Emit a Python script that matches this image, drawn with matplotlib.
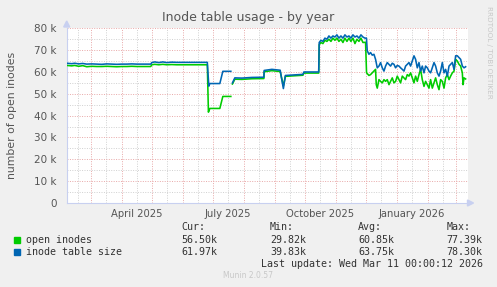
import numpy as np
import pandas as pd
import matplotlib
matplotlib.use("Agg")
import matplotlib.pyplot as plt
from matplotlib.patches import Rectangle, Polygon
from matplotlib.ticker import FuncFormatter, MultipleLocator

# --- data, days counted from START ---
START = pd.Timestamp("2025-02-05")
END = pd.Timestamp("2026-03-12 16:00")

size_days = [0, 5, 8, 12, 16, 20, 25, 30, 35, 40, 45, 50, 55, 60, 65, 70, 75, 80, 84,
             85, 88, 92, 96, 100, 105, 110, 115, 120, 125, 130, 135, 140.5,
             142, 143, 153, 156, 164, 164.5,
             165.6, 168, 175, 185, 197, 197.3, 205, 213.3, 216.5, 218.5, 236, 237, 251.8,
             252.3, 254, 256, 258, 260, 262, 264, 266, 268, 270, 272, 274, 276, 278, 280,
             282, 284, 286, 288, 290, 292, 294, 296, 298, 299.5,
             300.3, 302, 303.6, 305.3, 307, 308.6, 310.3, 312, 313.6, 315.3, 317, 318.6,
             320.3, 322, 323.6, 325.3, 327, 328.6, 330.3, 332, 333.6, 335.3, 337, 338.6,
             340.3, 342, 343.6, 345.3, 347, 348.6, 350.3, 352, 353.6, 355.3, 357, 358.6,
             360.3, 362, 363.6, 365.3, 367, 368.6, 370.3, 372, 373.6, 375.3, 377, 378.6,
             380.3, 382, 383.6, 385.3, 387, 388.6, 390.3, 392, 393.6, 395.3, 397, 398.6]
size_vals = [64.0, 63.8, 64.0, 63.7, 63.9, 63.6, 63.7, 63.6, 63.5, 63.7, 63.6, 63.5, 63.6,
             63.6, 63.7, 63.6, 63.6, 63.6, 63.6,
             64.3, 64.6, 64.3, 64.6, 64.3, 64.5, 64.4, 64.4, 64.4, 64.4, 64.4, 64.4, 64.4,
             53.5, 54.7, 54.7, 60.3, 60.3, np.nan,
             55.0, 57.3, 57.2, 57.5, 57.6, 60.7, 61.2, 60.8, 52.4, 58.4, 58.9, 60.0, 60.0,
             73.5, 74.5, 74.0, 75.5, 75.0, 76.5, 75.5, 76.5, 76.0, 77.0, 75.5, 76.5, 75.5,
             77.0, 76.0, 76.5, 75.5, 77.0, 76.0, 76.5, 75.5, 77.0, 76.0, 75.5, 75.5,
             69.7, 68.1, 68.9, 67.7, 68.1, 65.8, 61.9, 62.7, 64.3, 61.9, 60.4, 62.7,
             64.3, 63.5, 62.7, 64.0, 63.5, 61.9, 63.0, 62.7, 61.9, 61.2, 60.4, 62.7,
             63.5, 64.3, 62.7, 65.0, 67.4, 65.8, 61.9, 64.3, 60.4, 62.7, 59.6, 62.7,
             61.9, 60.4, 59.6, 61.9, 64.3, 62.7, 59.6, 58.1, 60.4, 64.3, 59.6, 61.2,
             58.1, 62.7, 63.5, 64.3, 61.2, 67.4, 67.4, 66.6, 65.8, 62.7, 61.9, 62.4]

open_days = [0, 5, 8, 12, 16, 20, 25, 30, 35, 40, 45, 50, 55, 60, 65, 70, 75, 80, 84,
             85, 88, 92, 96, 100, 105, 110, 115, 120, 125, 130, 135, 140.5,
             141.6, 143, 153, 156, 164, 164.5,
             165.6, 168, 175, 185, 197, 197.3, 205, 213.3, 216.5, 218.5, 236, 237, 251.8,
             252.3, 254, 256, 258, 260, 262, 264, 266, 268, 270, 272, 274, 276, 278, 280,
             282, 284, 286, 288, 290, 292, 294, 296, 298.6,
             299.6, 302, 303.6, 305.3, 307, 308.6, 309.3, 310.3, 312, 313.6, 315.3, 317,
             318.6, 320.3, 322, 323.6, 325.3, 327, 328.6, 330.3, 332, 333.6, 335.3, 337,
             338.6, 340.3, 342, 343.6, 345.3, 347, 348.6, 350.3, 352, 353.6, 355.3, 357,
             358.6, 360.3, 362, 363.6, 365.3, 367, 368.6, 370.3, 372, 373.6, 375.3, 377,
             378.6, 380.3, 382, 383.6, 385.3, 387, 388.6, 390.3, 392, 393.6, 395.3, 396,
             397, 398.6]
open_vals = [63.0, 62.8, 63.0, 62.6, 62.9, 62.4, 62.6, 62.5, 62.5, 62.6, 62.5, 62.4, 62.5,
             62.5, 62.6, 62.5, 62.5, 62.5, 62.5,
             63.3, 63.5, 63.3, 63.5, 63.3, 63.4, 63.3, 63.3, 63.3, 63.3, 63.3, 63.3, 63.3,
             41.6, 43.3, 43.3, 48.8, 48.8, np.nan,
             54.5, 56.7, 56.6, 56.9, 57.0, 60.1, 60.6, 60.2, 53.6, 58.0, 58.5, 59.5, 59.5,
             72.5, 73.5, 73.0, 74.5, 74.0, 75.0, 74.0, 75.5, 74.5, 75.5, 74.0, 75.0, 73.5,
             75.5, 74.0, 75.5, 74.0, 75.5, 73.0, 75.0, 74.0, 75.5, 73.5, 73.6,
             59.6, 58.4, 58.8, 59.6, 60.4, 61.2, 54.2, 52.6, 56.5, 55.7, 55.0, 56.5,
             55.7, 56.5, 54.2, 55.7, 57.3, 55.0, 55.7, 58.1, 56.5, 55.0, 58.1, 57.3,
             56.5, 58.8, 58.1, 59.6, 57.3, 55.0, 58.1, 55.7, 58.8, 61.2, 56.5, 53.4,
             55.7, 54.2, 52.6, 56.5, 52.6, 55.0, 57.3, 54.2, 51.9, 56.5, 55.7, 52.6,
             57.3, 58.8, 56.5, 58.1, 59.6, 60.4, 65.8, 65.0, 63.5, 62.7, 59.6, 54.2,
             57.3, 56.8]

series_names = ["open inodes", "inode table size"]
series_colors = ["#00CC00", "#0066B3"]
stat_cur = ["56.50k", "61.97k"]
stat_min = ["29.82k", "39.83k"]
stat_avg = ["60.85k", "63.75k"]
stat_max = ["77.39k", "78.30k"]
last_update = "Last update: Wed Mar 11 00:00:12 2026"

W, H = 497, 287
BG = "#F0F0F0"
TXT = "#555555"


def fx(px):
    return px / W


def fy(py):
    return 1 - py / H


fig = plt.figure(figsize=(W / 100, H / 100), dpi=100, facecolor=BG)
ax = fig.add_axes([fx(66.7), fy(203), fx(467.7 - 66.7), (203 - 28.3) / H])
ax.set_facecolor("white")

# grid: months (red) and mid-months (grey)
for m in pd.date_range("2025-02-01", "2026-03-31", freq="MS"):
    ax.axvline(m, color="#E8A8A8", lw=0.7, ls=(0, (1, 1.5)), zorder=1)
    ax.axvline(m + pd.Timedelta(days=15), color="#D0D0D0", lw=0.7, ls=(0, (1, 1.5)), zorder=1)
for v in range(0, 80001, 5000):
    c = "#E8A8A8" if v % 10000 == 0 else "#D0D0D0"
    ax.axhline(v, color=c, lw=0.7, ls=(0, (1, 1.5)), zorder=1)

for days, vals, col in [(open_days, open_vals, series_colors[0]),
                        (size_days, size_vals, series_colors[1])]:
    t = START + pd.to_timedelta(np.array(days), unit="D")
    ax.plot(t, np.array(vals) * 1000, color=col, lw=1.15, zorder=3)

ax.set_xlim(START, END)
ax.set_ylim(0, 80000)

for s in ["top", "right"]:
    ax.spines[s].set_visible(False)
for s in ["left", "bottom"]:
    ax.spines[s].set_color("#C8D0F0")
    ax.spines[s].set_linewidth(0.8)

ax.yaxis.set_major_locator(MultipleLocator(10000))
ax.yaxis.set_major_formatter(FuncFormatter(lambda v, p: "0" if v == 0 else f"{int(v / 1000)} k"))
ax.tick_params(axis="y", length=0, labelsize=7.5, labelcolor=TXT, pad=7)

label_months = pd.date_range("2025-04-01", "2026-01-01", freq="3MS")
ax.set_xticks(label_months + pd.Timedelta(days=15))
ax.set_xticklabels([d.strftime("%B %Y") for d in label_months])
ax.tick_params(axis="x", length=0, labelsize=7.2, labelcolor=TXT, pad=4)

# axis arrows
fig.patches.append(Polygon(
    [(fx(63.7), fy(27)), (fx(69.7), fy(27)), (fx(66.7), fy(21))],
    closed=True, color="#C8D0F0", transform=fig.transFigure))
fig.patches.append(Polygon(
    [(fx(467.5), fy(200)), (fx(467.5), fy(206)), (fx(473.5), fy(203))],
    closed=True, color="#C8D0F0", transform=fig.transFigure))

fig.text(fx(248), fy(17), "Inode table usage - by year", ha="center", va="center",
         fontsize=9, color=TXT)
fig.text(fx(12), fy(115.5), "number of open inodes", rotation=90, ha="center",
         va="center", fontsize=7.8, color=TXT)
fig.text(fx(489), fy(52), "RRDTOOL / TOBI OETIKER", rotation=270, ha="center",
         va="center", fontsize=5.2, color="#C8C8C8")

mono = dict(family="DejaVu Sans Mono", fontsize=7.2, color="#333333", va="center")
cols_x = [181.7, 270, 358.3, 446.7]
for x, h in zip(cols_x, ["Cur:", "Min:", "Avg:", "Max:"]):
    fig.text(fx(x), fy(227), h, ha="left", **mono)
rows_y = [240, 252]
for i, name in enumerate(series_names):
    fig.patches.append(Rectangle((fx(14), fy(rows_y[i] + 3)), 6 / W, 6 / H,
                                 color=series_colors[i], transform=fig.transFigure))
    fig.text(fx(26), fy(rows_y[i]), name, ha="left", **mono)
    for x, s in zip(cols_x, [stat_cur[i], stat_min[i], stat_avg[i], stat_max[i]]):
        fig.text(fx(x), fy(rows_y[i]), s, ha="left", **mono)
fig.text(fx(483), fy(263.7), last_update, ha="right", **mono)
fig.text(fx(248), fy(276), "Munin 2.0.57", ha="center", va="center", fontsize=5.5,
         color="#C8C8C8")

fig.savefig("out.png", dpi=100, facecolor=BG)
